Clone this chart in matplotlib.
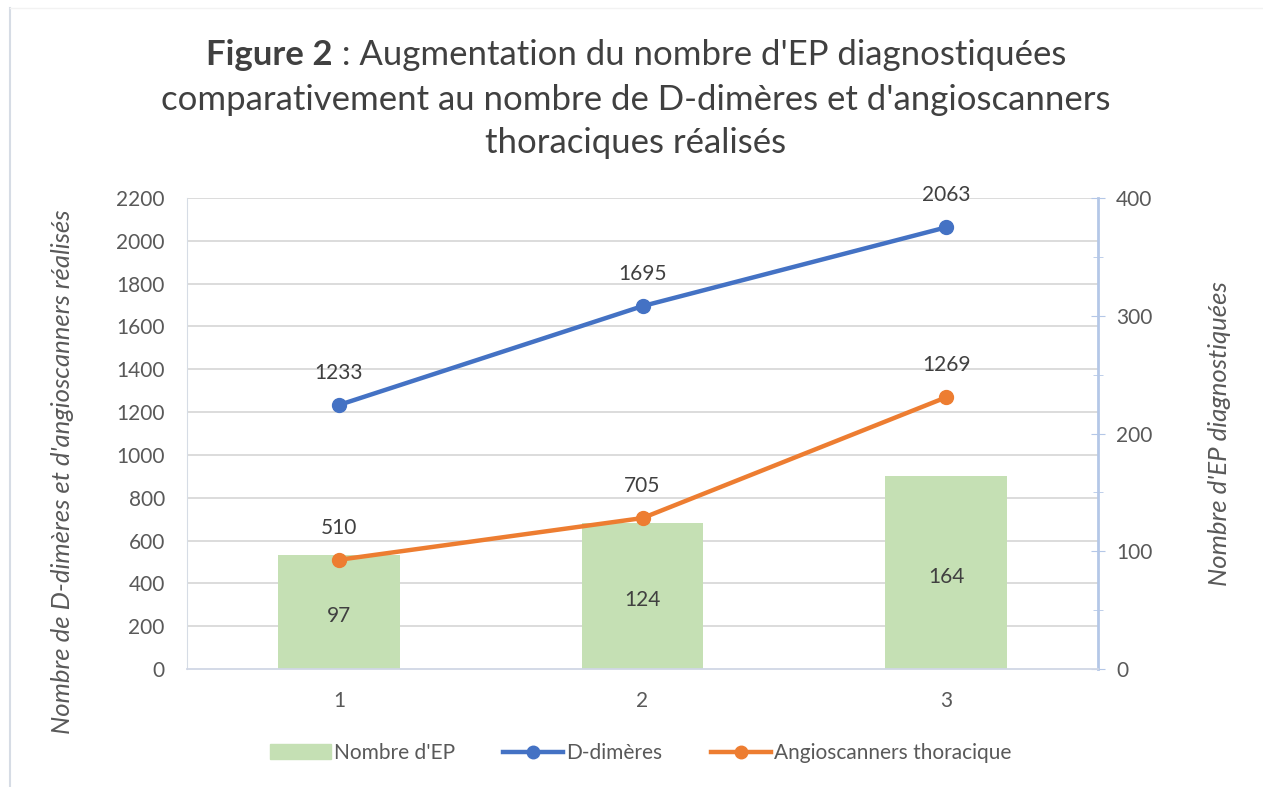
import matplotlib.pyplot as plt
from matplotlib.patches import Rectangle
from matplotlib.lines import Line2D
from matplotlib.ticker import MultipleLocator

plt.rcParams['font.family'] = ['Lato', 'DejaVu Sans']

categories = ['1', '2', '3']
nb_ep = [97, 124, 164]
d_dimeres = [1233, 1695, 2063]
angioscanners = [510, 705, 1269]

GREEN = '#C5E0B4'
BLUE = '#4472C4'
ORANGE = '#ED7D31'
TXT = '#404040'
TICK = '#595959'

fig = plt.figure(figsize=(12.63, 7.87), dpi=100)
ax = fig.add_axes([187 / 1263, 1 - 669 / 787, (1098 - 187) / 1263, (669 - 198) / 787])
ax2 = ax.twinx()

x = [1, 2, 3]

# bars on the secondary axis (EP count)
ax2.bar(x, nb_ep, width=0.4, color=GREEN, zorder=1)
for xi, v in zip(x, nb_ep):
    ax2.annotate(str(v), (xi, v / 2), xytext=(0, -3), textcoords='offset points',
                 ha='center', va='center', fontsize=15, color=TXT)

ax2.set_ylim(0, 400)
ax2.yaxis.set_major_locator(MultipleLocator(100))
ax2.yaxis.set_minor_locator(MultipleLocator(50))
ax2.tick_params(axis='y', which='both', direction='inout', color='#B4C7E7',
                labelsize=15, labelcolor=TICK, pad=8)
ax2.tick_params(axis='y', which='major', length=10)
ax2.tick_params(axis='y', which='minor', length=7)
ax2.set_ylabel("Nombre d'EP diagnostiquées", fontsize=18.5, style='italic',
               color=TICK, rotation=90)
ax2.yaxis.set_label_coords(1.121, 0.5)

# lines on the primary axis, drawn above the bars
ax.set_zorder(ax2.get_zorder() + 1)
ax.patch.set_visible(False)
ax.plot(x, d_dimeres, color=BLUE, lw=3.2, marker='o', ms=10, solid_capstyle='round')
ax.plot(x, angioscanners, color=ORANGE, lw=3.2, marker='o', ms=10, solid_capstyle='round')
for xi, v in zip(x, d_dimeres):
    ax.annotate(str(v), (xi, v), xytext=(0, 23), textcoords='offset points',
                ha='center', va='center', fontsize=15, color=TXT)
for xi, v in zip(x, angioscanners):
    ax.annotate(str(v), (xi, v), xytext=(0, 23), textcoords='offset points',
                ha='center', va='center', fontsize=15, color=TXT)

ax.set_xlim(0.5, 3.5)
ax.set_ylim(0, 2200)
ax.yaxis.set_major_locator(MultipleLocator(200))
ax.set_xticks(x)
ax.set_xticklabels(categories)
ax.tick_params(axis='both', length=0, labelsize=15, labelcolor=TICK)
ax.tick_params(axis='x', pad=16)
ax.tick_params(axis='y', pad=16)
ax2.grid(False)
ax.set_ylabel("Nombre de D-dimères et d'angioscanners réalisés", fontsize=18.5,
              style='italic', color=TICK)
ax.yaxis.set_label_coords(-0.124, 0.418)

# gridlines on the secondary axes (behind bars)
for v in range(200, 2201, 200):
    ax2.axhline(v * 400 / 2200, color='#D9D9D9', lw=1.3, zorder=0)

for a in (ax, ax2):
    a.spines['top'].set_visible(False)
ax.spines['right'].set_visible(False)
ax.spines['left'].set_color('#D6DCE5')
ax.spines['bottom'].set_color('#D0D7E5')
ax.spines['bottom'].set_linewidth(1.3)
ax2.spines['left'].set_visible(False)
ax2.spines['bottom'].set_visible(False)
ax2.spines['right'].set_color('#B4C7E7')
ax2.spines['right'].set_linewidth(2)

# title: bold part + regular part on first line
fig.canvas.draw()
r = fig.canvas.get_renderer()
t1 = fig.text(0, 1 - 55 / 787, 'Figure 2', fontsize=25, fontweight='bold', color=TXT, va='center')
t2 = fig.text(0, 1 - 55 / 787, " : Augmentation du nombre d'EP diagnostiquées",
              fontsize=25, color=TXT, va='center')
w1 = t1.get_window_extent(r).width
w2 = t2.get_window_extent(r).width
start = 636 - (w1 + w2) / 2
t1.set_x(start / 1263)
t2.set_x((start + w1) / 1263)
fig.text(636 / 1263, 1 - 100 / 787,
         "comparativement au nombre de D-dimères et d'angioscanners",
         fontsize=25, color=TXT, ha='center', va='center')
fig.text(636 / 1263, 1 - 143 / 787, 'thoraciques réalisés',
         fontsize=25, color=TXT, ha='center', va='center')

# legend
handles = [
    Rectangle((0, 0), 1, 1, color=GREEN),
    Line2D([], [], color=BLUE, lw=3.2, marker='o', ms=9),
    Line2D([], [], color=ORANGE, lw=3.2, marker='o', ms=9),
]
labels = ["Nombre d'EP", 'D-dimères', 'Angioscanners thoracique']
fig.legend(handles, labels, loc='center', bbox_to_anchor=(641 / 1263, 1 - 753 / 787),
           ncol=3, frameon=False, fontsize=15, labelcolor=TICK,
           handlelength=2.9, handletextpad=0.15, columnspacing=2.3)

# faint chart border
fig.add_artist(Line2D([10 / 1263, 10 / 1263], [0, 1 - 8 / 787], color='#D6DCE5',
                      lw=1.5, transform=fig.transFigure))
fig.add_artist(Line2D([10 / 1263, 1], [1 - 8 / 787, 1 - 8 / 787], color='#F2F2F2',
                      lw=1, transform=fig.transFigure))

fig.savefig('out.png', dpi=100)
